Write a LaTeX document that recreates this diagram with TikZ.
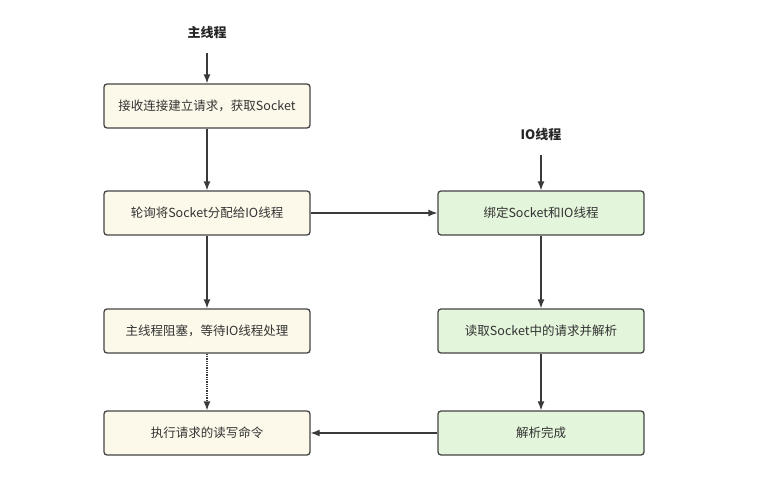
\documentclass[tikz,border=0pt]{standalone}
\usepackage{fontspec}
\setmainfont{Noto Sans CJK SC}
\usepackage{xcolor}
\usepackage{tikz}
\usetikzlibrary{arrows.meta,positioning,calc}

\definecolor{mainfill}{HTML}{FDF9EA}
\definecolor{iofill}{HTML}{E3F5DA}
\definecolor{boxline}{HTML}{444444}
\definecolor{arrowline}{HTML}{3A3A3A}

\tikzset{
  stepbox/.style={draw=boxline,line width=1.3pt,rounded corners=3pt,
    minimum width=206pt,minimum height=44pt,font=\fontsize{12.5pt}{14pt}\selectfont,
    text=black!80},
  mainbox/.style={stepbox,fill=mainfill},
  iobox/.style={stepbox,fill=iofill},
  lane/.style={font=\bfseries\fontsize{13pt}{15pt}\selectfont,text=black!85},
  flow/.style={-{Latex[length=9pt,width=7pt]},draw=arrowline,line width=1.3pt}
}

\begin{document}
\begin{tikzpicture}[x=1pt,y=-1pt]
  \useasboundingbox (0,0) rectangle (769,487);
  % main thread
  \node[lane] (mainlabel) at (207,33) {主线程};
  \coordinate (mainstart) at (207,53);
  \node[mainbox] (accept) at (207,106) {接收连接建立请求，获取Socket};
  \node[mainbox] (dispatch) at (207,213) {轮询将Socket分配给IO线程};
  \node[mainbox] (wait) at (207,331) {主线程阻塞，等待IO线程处理};
  \node[mainbox] (exec) at (207,433) {执行请求的读写命令};
  % io thread
  \node[lane] (iolabel) at (541,135) {IO线程};
  \coordinate (iostart) at (541,155);
  \node[iobox] (bind) at (541,213) {绑定Socket和IO线程};
  \node[iobox] (read) at (541,331) {读取Socket中的请求并解析};
  \node[iobox] (done) at (541,433) {解析完成};
  % connectors
  \draw[flow] (mainstart) -- (accept);
  \draw[flow] (accept) -- (dispatch);
  \draw[flow] (dispatch) -- (wait);
  \draw[flow,densely dotted] (wait) -- (exec);
  \draw[flow] (iostart) -- (bind);
  \draw[flow] (dispatch) -- (bind);
  \draw[flow] (bind) -- (read);
  \draw[flow] (read) -- (done);
  \draw[flow] (done) -- (exec);
\end{tikzpicture}
\end{document}
